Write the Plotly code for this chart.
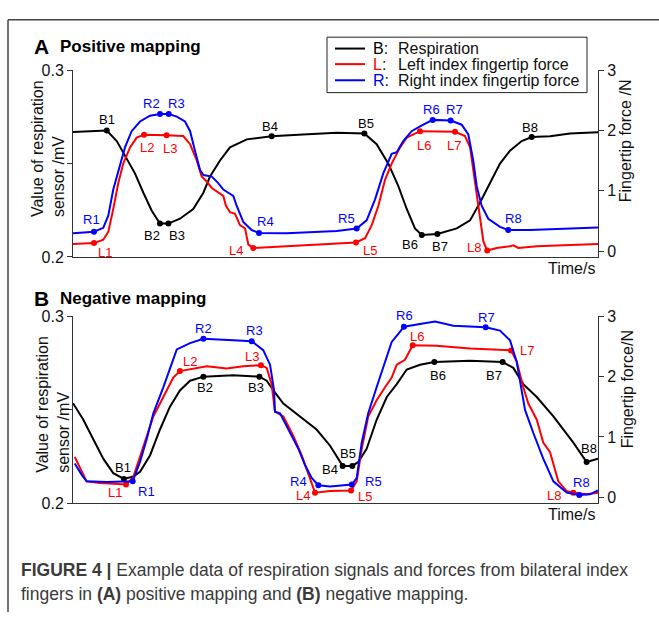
import plotly.graph_objects as go

W, H = 659, 621
FONT = "Liberation Sans, Arial, sans-serif"

# ---------------- Panel A : positive mapping ----------------
A_B_t = [0.0, 0.97, 1.93, 2.50, 2.97, 3.54, 4.02, 4.50, 4.97, 5.45, 6.11, 6.87, 7.45, 7.83, 8.40, 8.97,
         9.93, 11.35, 13.14, 15.07, 16.65, 17.35, 18.02, 18.59, 19.07, 19.54, 19.93, 20.82, 21.93, 22.69,
         23.26, 23.83, 24.40, 24.97, 25.64, 26.21, 27.26, 28.40, 30.0]
A_B_v = [0.2670, 0.2672, 0.2677, 0.2621, 0.2543, 0.2448, 0.2344, 0.2248, 0.2179, 0.2179, 0.2205, 0.2257,
         0.2344, 0.2431, 0.2517, 0.2587, 0.2630, 0.2647, 0.2656, 0.2665, 0.2661, 0.2604, 0.2500, 0.2379,
         0.2257, 0.2153, 0.2118, 0.2123, 0.2153, 0.2196, 0.2292, 0.2396, 0.2500, 0.2569, 0.2621, 0.2642,
         0.2647, 0.2661, 0.2668]

A_L_t = [0.0, 1.20, 1.73, 2.02, 2.30, 2.59, 2.87, 3.26, 3.64, 4.06, 5.35, 6.30, 6.69, 7.07, 7.35, 7.64,
         7.93, 8.30, 8.59, 8.74, 8.97, 9.26, 9.54, 9.83, 10.02, 10.30, 12.21, 15.07, 16.17, 16.69, 17.07,
         17.45, 17.83, 18.21, 18.69, 19.07, 19.83, 21.83, 22.40, 22.69, 22.87, 23.07, 23.26, 23.45, 23.67,
         24.21, 24.97, 25.16, 25.45, 26.50, 30.0]
A_L_v = [0.118, 0.134, 0.189, 0.323, 0.698, 1.129, 1.452, 1.721, 1.882, 1.931, 1.924, 1.908, 1.774, 1.505,
         1.237, 1.156, 1.048, 0.968, 0.915, 0.753, 0.645, 0.618, 0.431, 0.376, 0.108, 0.053, 0.081, 0.118,
         0.145, 0.215, 0.431, 0.753, 1.182, 1.452, 1.721, 1.882, 1.989, 1.979, 1.908, 1.721, 1.344, 0.968,
         0.537, 0.161, 0.011, 0.053, 0.081, 0.097, 0.053, 0.081, 0.118]

A_R_t = [0.0, 1.20, 1.73, 2.02, 2.30, 2.69, 2.97, 3.35, 3.83, 4.40, 4.97, 5.47, 5.93, 6.40, 6.69, 6.97,
         7.26, 7.45, 7.93, 8.30, 8.59, 8.87, 9.16, 9.35, 9.73, 10.21, 10.63, 12.21, 15.07, 16.21, 16.78,
         17.26, 17.73, 18.21, 18.50, 18.87, 19.35, 19.83, 20.55, 21.58, 22.21, 22.59, 22.87, 23.07, 23.35,
         23.73, 24.40, 24.87, 26.11, 30.0]
A_R_v = [0.295, 0.323, 0.387, 0.592, 1.021, 1.452, 1.721, 1.989, 2.150, 2.247, 2.274, 2.274, 2.231, 2.150,
         1.989, 1.666, 1.344, 1.263, 1.237, 1.129, 1.021, 0.968, 0.915, 0.753, 0.484, 0.350, 0.302, 0.295,
         0.334, 0.376, 0.511, 0.860, 1.290, 1.613, 1.640, 1.827, 1.989, 2.069, 2.177, 2.166, 2.097, 1.935,
         1.505, 1.076, 0.753, 0.537, 0.403, 0.350, 0.350, 0.392]

# ---------------- Panel B : negative mapping ----------------
B_B_t = [0.0, 0.59, 1.16, 1.73, 2.30, 2.91, 3.45, 3.83, 4.40, 4.97, 5.54, 6.11, 6.69, 7.45, 9.16, 10.65,
         11.07, 11.45, 12.02, 12.97, 13.92, 14.69, 15.41, 15.96, 16.30, 16.78, 17.35, 17.93, 18.50, 19.07,
         19.83, 20.65, 22.69, 24.55, 25.16, 25.73, 26.50, 27.45, 28.59, 29.35, 30.0]
B_B_v = [0.2535, 0.2446, 0.2342, 0.2238, 0.2160, 0.2129, 0.2142, 0.2168, 0.2255, 0.2394, 0.2516, 0.2603,
         0.2655, 0.2677, 0.2684, 0.2677, 0.2655, 0.2603, 0.2533, 0.2464, 0.2394, 0.2307, 0.2199, 0.2199,
         0.2220, 0.2290, 0.2446, 0.2568, 0.2637, 0.2715, 0.2741, 0.2755, 0.2762, 0.2755, 0.2724, 0.2637,
         0.2568, 0.2464, 0.2324, 0.2220, 0.2238]

B_L_t = [0.1, 0.40, 0.78, 1.54, 3.03, 3.43, 3.83, 4.21, 4.59, 5.16, 5.73, 6.11, 7.26, 7.64, 8.78, 9.73,
         10.74, 11.07, 11.35, 11.54, 12.02, 12.59, 13.07, 13.45, 13.83, 14.69, 15.89, 16.21, 16.50, 16.87,
         17.35, 17.83, 18.21, 18.50, 18.97, 19.41, 20.78, 22.69, 25.03, 25.35, 25.73, 26.02, 26.50, 26.87,
         27.26, 27.73, 28.21, 28.59, 29.35, 30.0]
B_L_v = [0.666, 0.479, 0.263, 0.237, 0.210, 0.323, 0.666, 1.016, 1.339, 1.661, 1.984, 2.092, 2.145, 2.173,
         2.134, 2.173, 2.189, 2.145, 1.876, 1.419, 1.339, 1.016, 0.694, 0.371, 0.076, 0.102, 0.113, 0.263,
         0.802, 1.339, 1.608, 1.823, 1.984, 2.198, 2.279, 2.521, 2.511, 2.468, 2.435, 2.253, 1.823, 1.553,
         1.285, 0.908, 0.747, 0.263, 0.102, 0.076, 0.048, 0.076]

B_R_t = [0.1, 0.50, 0.78, 1.93, 3.41, 3.83, 4.21, 4.59, 5.16, 5.93, 6.69, 7.45, 9.16, 10.21, 10.87, 11.26,
         11.49, 11.54, 11.83, 12.40, 12.88, 13.26, 13.64, 14.02, 14.69, 15.93, 16.21, 16.50, 16.87, 17.35,
         17.83, 18.21, 18.59, 18.91, 19.83, 20.69, 21.73, 23.58, 24.40, 24.97, 25.35, 25.83, 26.30, 26.87,
         27.45, 28.21, 28.93, 29.54, 30.0]
B_R_v = [0.560, 0.371, 0.263, 0.253, 0.263, 0.585, 0.963, 1.392, 1.823, 2.452, 2.556, 2.629, 2.602, 2.586,
         2.440, 2.198, 1.769, 1.419, 1.392, 1.069, 0.802, 0.532, 0.318, 0.198, 0.177, 0.210, 0.318, 0.908,
         1.392, 1.823, 2.253, 2.576, 2.710, 2.827, 2.871, 2.915, 2.844, 2.818, 2.763, 2.602, 2.253, 1.447,
         1.069, 0.640, 0.263, 0.076, 0.037, 0.048, 0.113]

# ---------------- Key points (times) ----------------
A_B_key_t = [1.93, 4.97, 5.45, 11.35, 16.65, 19.93, 20.82, 26.21]
A_L_key_t = [1.20, 4.06, 5.35, 10.30, 16.17, 19.83, 21.83, 23.67]
A_R_key_t = [1.20, 4.97, 5.47, 10.63, 16.21, 20.55, 21.58, 24.87]
B_B_key_t = [2.91, 7.45, 10.65, 15.41, 15.96, 20.65, 24.55, 29.35]
B_L_key_t = [3.03, 6.11, 10.74, 13.83, 15.89, 19.41, 25.03, 28.59]
B_R_key_t = [3.41, 7.45, 10.21, 14.02, 15.93, 18.91, 23.58, 28.93]

B_labels = ["B1", "B2", "B3", "B4", "B5", "B6", "B7", "B8"]
L_labels = ["L1", "L2", "L3", "L4", "L5", "L6", "L7", "L8"]
R_labels = ["R1", "R2", "R3", "R4", "R5", "R6", "R7", "R8"]

# label offsets in pixels (dx, dy up)
A_B_off = [(0, 11), (-8, -12), (9, -12), (-2, 10), (2, 10), (-12, -10), (3, -12), (-2, 10)]
A_L_off = [(11, -9), (3, -13), (3, -13), (-17, -3), (14, -8), (4, -14), (-1, -14), (-13, 3)]
A_R_off = [(-3, 12), (-8, 11), (8, 11), (6, 11), (-10, 10), (-1, 10), (4, 11), (5, 12)]
B_B_off = [(-1, 11), (2, -11), (-3, -11), (-13, -4), (-4, 12), (4, -13), (-9, -13), (2, 13)]
B_L_off = [(-11, -8), (10, 10), (-9, 9), (-12, -3), (14, -6), (4, 9), (16, 0), (-19, -3)]
B_R_off = [(14, -10), (0, 10), (3, 11), (-20, 4), (22, 3), (1, 11), (1, 10), (2, 12)]

BLACK, RED, BLUE = "#000000", "#ff0000", "#0000ff"


def px(x):
    return x / W


def py(y):
    return 1 - y / H


fig = go.Figure()
annotations = []


def add_series(t, v, key_t, labels, offs, color, xa, ya):
    fig.add_trace(go.Scatter(x=t, y=v, mode="lines", line=dict(color=color, width=2),
                             xaxis=xa, yaxis=ya, showlegend=False, hoverinfo="skip"))
    kv = [v[t.index(k)] for k in key_t]
    fig.add_trace(go.Scatter(x=key_t, y=kv, mode="markers", marker=dict(color=color, size=6),
                             xaxis=xa, yaxis=ya, showlegend=False, hoverinfo="skip"))
    for k, val, lab, (dx, dy) in zip(key_t, kv, labels, offs):
        annotations.append(dict(x=k, y=val, xref=xa, yref=ya, text=lab, showarrow=False,
                                xshift=dx, yshift=dy, font=dict(family=FONT, size=13, color=color)))


add_series(A_B_t, A_B_v, A_B_key_t, B_labels, A_B_off, BLACK, "x", "y")
add_series(A_L_t, A_L_v, A_L_key_t, L_labels, A_L_off, RED, "x", "y2")
add_series(A_R_t, A_R_v, A_R_key_t, R_labels, A_R_off, BLUE, "x", "y2")
add_series(B_B_t, B_B_v, B_B_key_t, B_labels, B_B_off, BLACK, "x2", "y3")
add_series(B_L_t, B_L_v, B_L_key_t, L_labels, B_L_off, RED, "x2", "y4")
add_series(B_R_t, B_R_v, B_R_key_t, R_labels, B_R_off, BLUE, "x2", "y4")

XDOM = [px(73), px(598)]
A_DOM = [py(256), py(64)]
B_DOM = [py(509), py(317)]
AXC = "#333333"
tickf = dict(family=FONT, size=16, color="#111111")

xa_common = dict(range=[0, 30], domain=XDOM, showline=True, linecolor=AXC, linewidth=1,
                 showticklabels=False, ticks="", showgrid=False, zeroline=False, fixedrange=True)
yl_common = dict(range=[0.2, 0.3], tickvals=[0.2, 0.25, 0.3], ticktext=["0.2", "", "0.3"],
                 ticks="outside", ticklen=5, tickcolor=AXC, showline=True, linecolor=AXC, linewidth=1,
                 showgrid=False, zeroline=False, tickfont=tickf)
yr_common = dict(range=[-0.097, 3.0], tickvals=[0, 1, 2, 3], ticks="outside", ticklen=5, tickcolor=AXC,
                 showline=True, linecolor=AXC, linewidth=1, showgrid=False, zeroline=False,
                 side="right", tickfont=tickf)

fig.update_layout(
    xaxis=dict(anchor="y", **xa_common),
    yaxis=dict(anchor="x", domain=A_DOM, **yl_common),
    yaxis2=dict(anchor="x", overlaying="y", **yr_common),
    xaxis2=dict(anchor="y3", **xa_common),
    yaxis3=dict(anchor="x2", domain=B_DOM, **yl_common),
    yaxis4=dict(anchor="x2", overlaying="y3", **yr_common),
)

# Panel titles
for letter, title, yc in [("A", "Positive mapping", 40), ("B", "Negative mapping", 299)]:
    annotations.append(dict(x=px(32), y=py(yc), xref="paper", yref="paper", xanchor="left", yanchor="middle",
                            text="<b>" + letter + "</b>", showarrow=False,
                            font=dict(family=FONT, size=21, color="#000")))
    annotations.append(dict(x=px(58), y=py(yc), xref="paper", yref="paper", xanchor="left", yanchor="middle",
                            text="<b>" + title + "</b>", showarrow=False,
                            font=dict(family=FONT, size=17, color="#000")))

# Axis titles
axf = dict(family=FONT, size=16, color="#111")
for xc, yc in [(48, 145), (53, 407)]:
    annotations.append(dict(x=px(xc), y=py(yc), xref="paper", yref="paper", xanchor="center", yanchor="middle",
                            text="Value of respiration<br>sensor /mV", textangle=-90, align="left",
                            showarrow=False, font=axf))
for xc, yc, txt in [(625, 137, "Fingertip force /N"), (627, 392, "Fingertip force/N")]:
    annotations.append(dict(x=px(xc), y=py(yc), xref="paper", yref="paper", xanchor="center", yanchor="middle",
                            text=txt, textangle=-90, showarrow=False, font=axf))
for yc in [268, 521]:
    annotations.append(dict(x=px(597), y=py(yc), xref="paper", yref="paper", xanchor="right", yanchor="middle",
                            text="Time/s", showarrow=False, font=axf))

# Legend (manual box)
shapes = [
    dict(type="rect", xref="paper", yref="paper", x0=px(327), x1=px(587), y0=py(87), y1=py(30),
         line=dict(color="#222", width=1), fillcolor="white", layer="above"),
    dict(type="line", xref="paper", yref="paper", x0=px(8), x1=px(659), y0=py(12), y1=py(12),
         line=dict(color="#444", width=1.5)),
    dict(type="line", xref="paper", yref="paper", x0=px(8), x1=px(8), y0=py(12), y1=py(621),
         line=dict(color="#444", width=1.5)),
]
leg = [("B", BLACK, "Respiration", 41.7), ("L", RED, "Left index fingertip force", 57.7),
       ("R", BLUE, "Right index fingertip force", 74.3)]
for letter, col, name, yc in leg:
    shapes.append(dict(type="line", xref="paper", yref="paper", x0=px(335), x1=px(365), y0=py(yc), y1=py(yc),
                       line=dict(color=col, width=2), layer="above"))
    annotations.append(dict(x=px(371), y=py(yc), xref="paper", yref="paper", xanchor="left", yanchor="middle",
                            text='<span style="color:%s">%s</span>:' % (col, letter), showarrow=False,
                            font=dict(family=FONT, size=16, color="#111")))
    annotations.append(dict(x=px(396), y=py(yc), xref="paper", yref="paper", xanchor="left", yanchor="middle",
                            text=name, showarrow=False, font=dict(family=FONT, size=16, color="#111")))

# Caption
capf = dict(family=FONT, size=17.5, color="#3a3a3a")
annotations.append(dict(x=px(19), y=py(578), xref="paper", yref="paper", xanchor="left", yanchor="middle",
                        text="<b>FIGURE 4 |</b> Example data of respiration signals and forces from bilateral index",
                        showarrow=False, font=capf))
annotations.append(dict(x=px(19), y=py(603), xref="paper", yref="paper", xanchor="left", yanchor="middle",
                        text="fingers in <b>(A)</b> positive mapping and <b>(B)</b> negative mapping.",
                        showarrow=False, font=capf))

fig.update_layout(width=W, height=H, margin=dict(l=0, r=0, t=0, b=0), paper_bgcolor="white",
                  plot_bgcolor="white", showlegend=False, annotations=annotations, shapes=shapes,
                  font=dict(family=FONT))

fig.write_html("out.html", config={"displayModeBar": False},
               post_script="document.body.style.margin='0';document.body.style.overflow='hidden';")
